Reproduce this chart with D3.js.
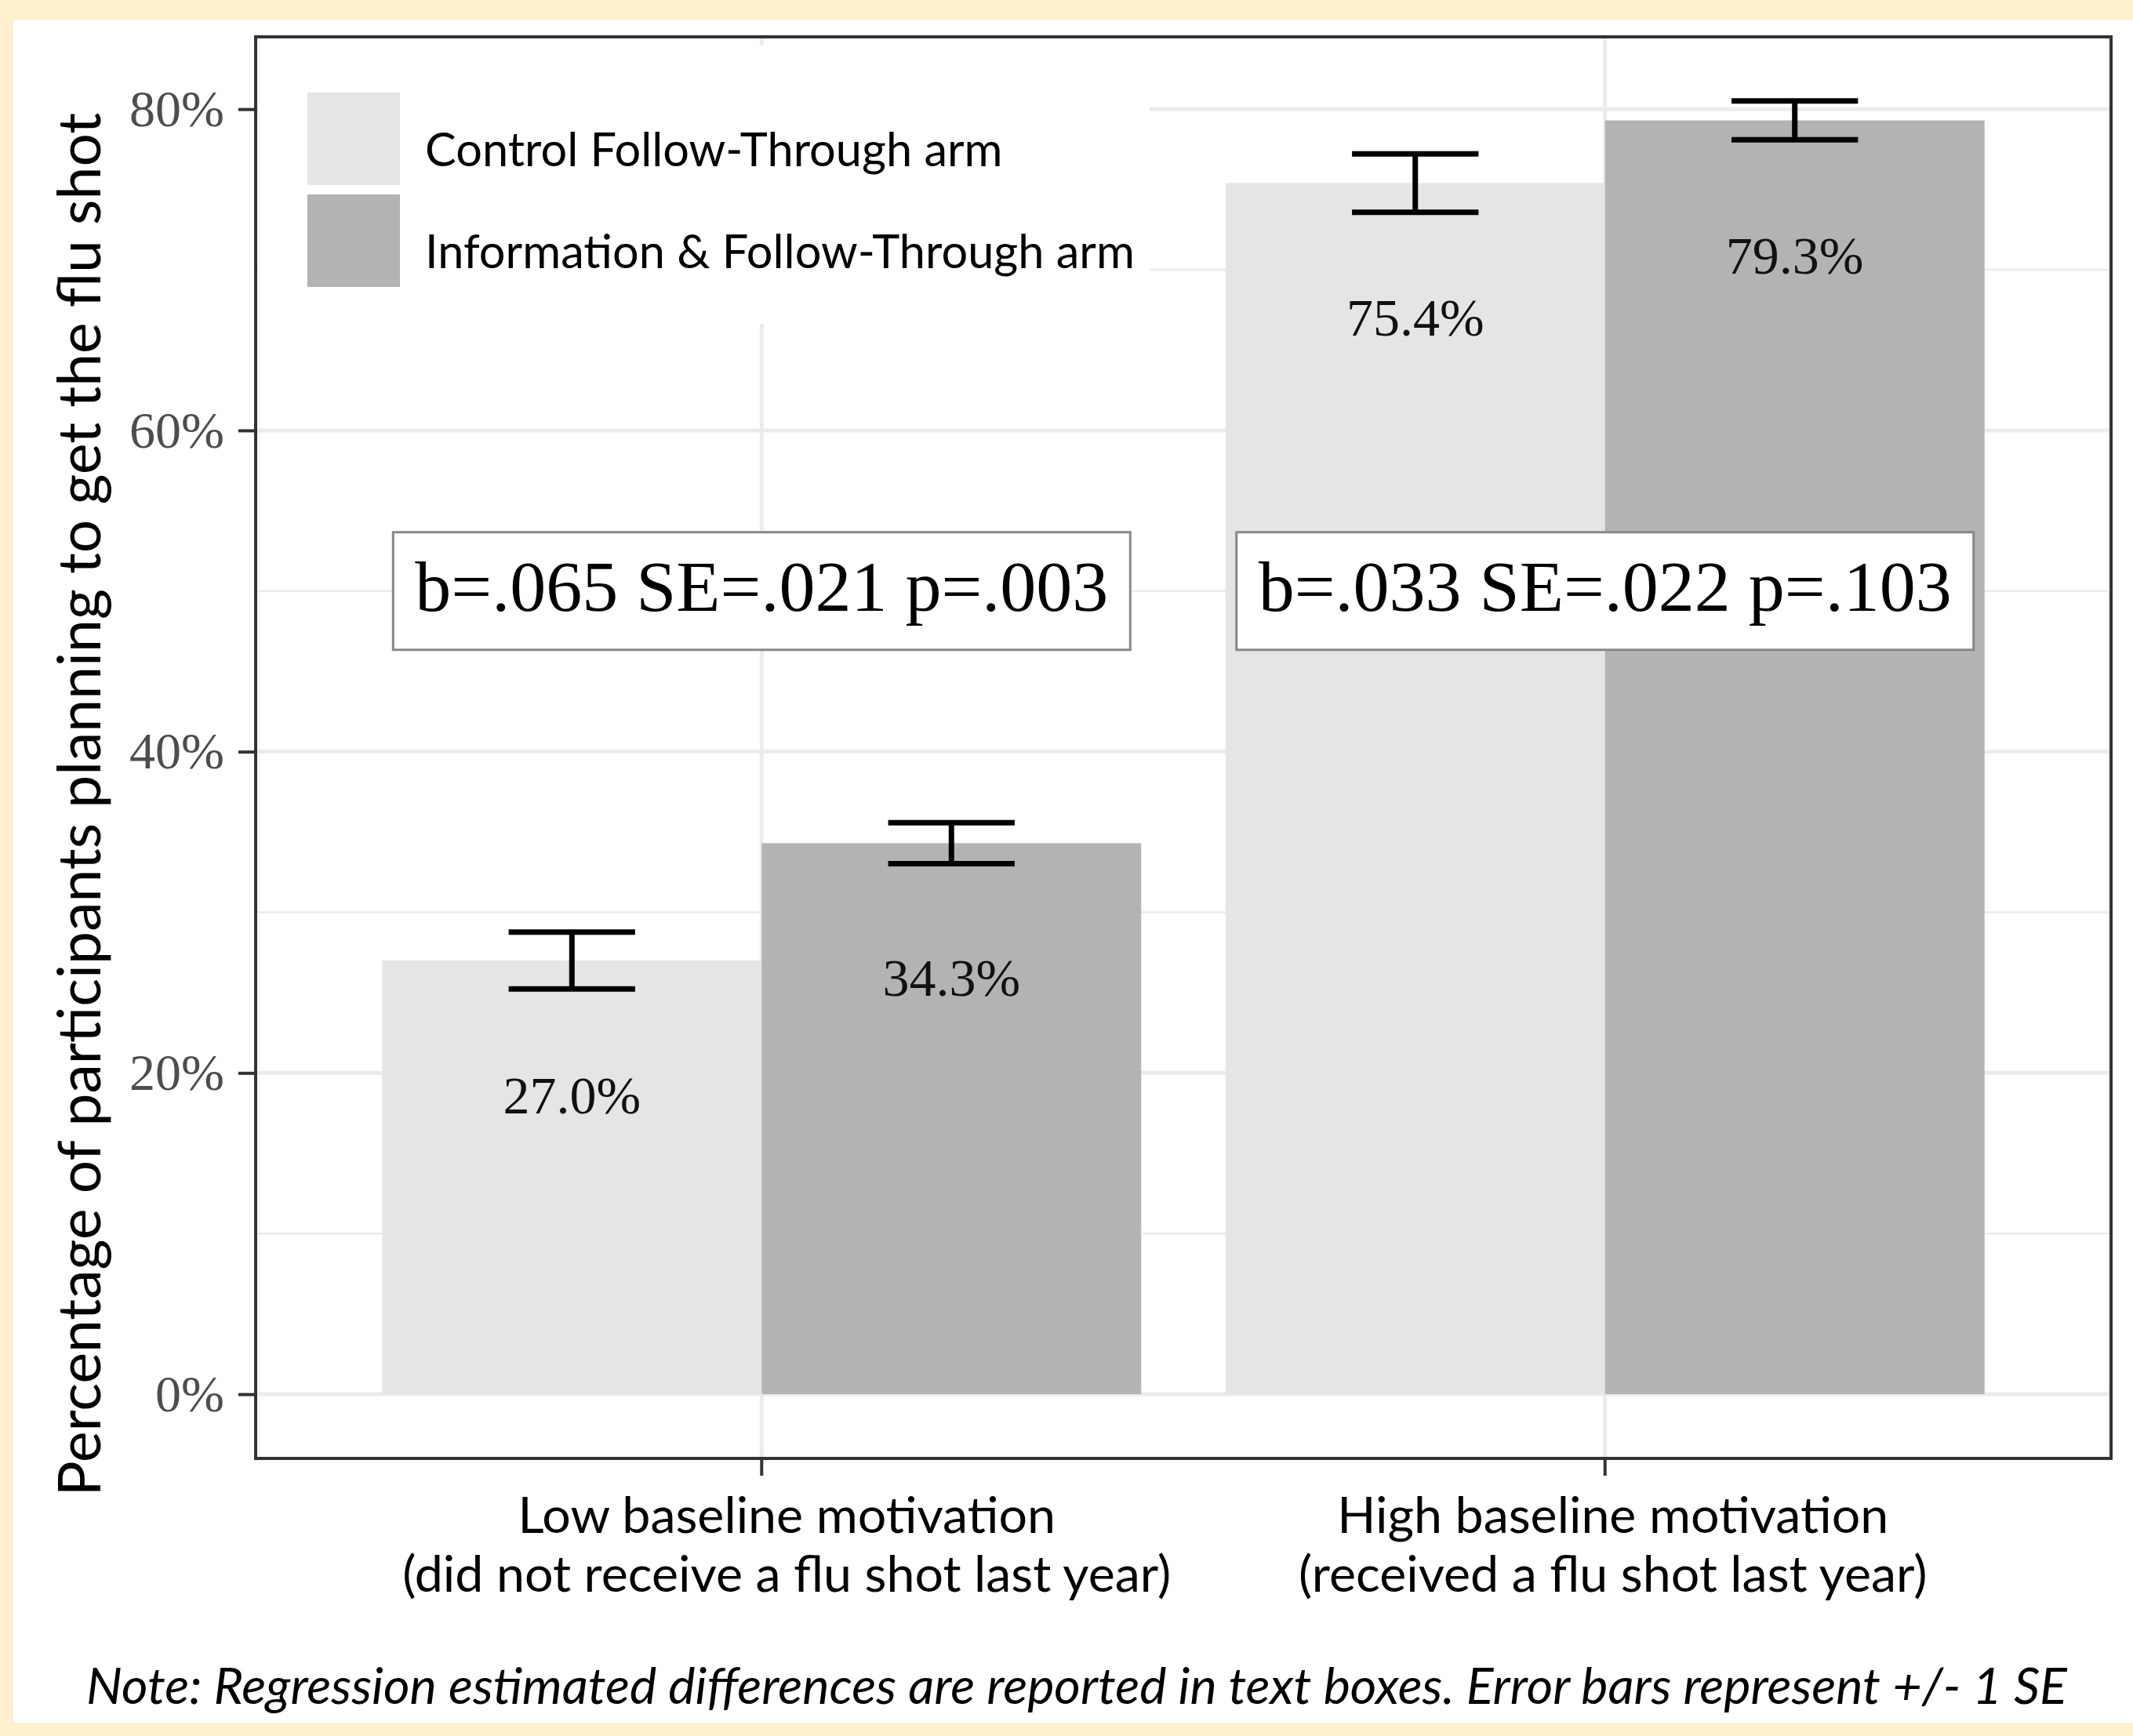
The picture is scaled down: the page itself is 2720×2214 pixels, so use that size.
<!DOCTYPE html>
<html>
<head>
<meta charset="utf-8">
<script src="https://cdn.jsdelivr.net/npm/d3@7"></script>
<style>
  body { margin: 0; background: #FFF1CE; }
  svg { display: block; }
  .sans { font-family: Lato, "Open Sans", sans-serif; }
  .serif { font-family: "Liberation Serif", "Times New Roman", serif; }
</style>
</head>
<body>
<svg width="2720" height="2214"></svg>
<script>
// data
const groups = ["Low", "High"];
const groupLine1 = ["Low baseline motivation", "High baseline motivation"];
const groupLine2 = ["(did not receive a flu shot last year)", "(received a flu shot last year)"];
const arms = ["Control Follow-Through arm", "Information & Follow-Through arm"];
const controlValues = [27.0, 75.4];
const infoValues = [34.3, 79.3];
const controlSE = [1.77, 1.82];
const infoSE = [1.27, 1.21];
const statLabels = ["b=.065 SE=.021 p=.003", "b=.033 SE=.022 p=.103"];
const yTicks = [0, 20, 40, 60, 80];
const yMinor = [10, 30, 50, 70];

const svg = d3.select("svg"),
      panel = {left: 326, right: 2692, top: 47, bottom: 1860};

// page background: cream frame + white card
svg.append("rect").attr("width", 2720).attr("height", 2214).attr("fill", "#FFF1CE");
svg.append("rect").attr("x", 17).attr("y", 25).attr("width", 2720 - 17).attr("height", 2197 - 25).attr("fill", "#fff");

const data = [];
groups.forEach((grp, i) => {
  data.push({group: grp, arm: arms[0], value: controlValues[i], se: controlSE[i]});
  data.push({group: grp, arm: arms[1], value: infoValues[i], se: infoSE[i]});
});

const x0 = d3.scaleBand()
  .domain(groups)
  .range([panel.left, panel.right])
  .paddingInner(0.1)
  .paddingOuter(0.15);

const x1 = d3.scaleBand()
  .domain(arms)
  .range([0, x0.bandwidth()])
  .padding(0);

const y = d3.scaleLinear()
  .domain([-4.0, 84.5])
  .range([panel.bottom, panel.top]);

const color = d3.scaleOrdinal()
  .domain(arms)
  .range(["#E5E5E5", "#B3B3B3"]);

const cx = grp => x0(grp) + x0.bandwidth() / 2;

// grid
const grid = svg.append("g");
grid.selectAll("line.minor")
  .data(yMinor)
  .join("line")
  .attr("x1", panel.left).attr("x2", panel.right)
  .attr("y1", d => y(d)).attr("y2", d => y(d))
  .attr("stroke", "#EBEBEB").attr("stroke-width", 2.5);
grid.selectAll("line.major")
  .data(yTicks)
  .join("line")
  .attr("x1", panel.left).attr("x2", panel.right)
  .attr("y1", d => y(d)).attr("y2", d => y(d))
  .attr("stroke", "#EBEBEB").attr("stroke-width", 5);
grid.selectAll("line.vert")
  .data(groups)
  .join("line")
  .attr("x1", d => cx(d)).attr("x2", d => cx(d))
  .attr("y1", panel.top).attr("y2", panel.bottom)
  .attr("stroke", "#EBEBEB").attr("stroke-width", 5);

// bars
const gg = svg.selectAll(".grp")
  .data(d3.groups(data, d => d.group))
  .join("g")
  .attr("transform", d => `translate(${x0(d[0])},0)`);

gg.selectAll("rect")
  .data(d => d[1])
  .join("rect")
  .attr("x", d => x1(d.arm))
  .attr("y", d => y(d.value))
  .attr("width", x1.bandwidth())
  .attr("height", d => y(0) - y(d.value))
  .attr("fill", d => color(d.arm));

// error bars (cap width = 1/3 of bar)
const capW = x1.bandwidth() / 3;
const eb = gg.selectAll("g.err")
  .data(d => d[1])
  .join("g")
  .attr("transform", d => `translate(${x1(d.arm) + x1.bandwidth() / 2},0)`)
  .attr("stroke", "#000")
  .attr("stroke-width", 7);
eb.append("line")
  .attr("y1", d => y(d.value + d.se)).attr("y2", d => y(d.value - d.se));
eb.append("line")
  .attr("x1", -capW / 2).attr("x2", capW / 2)
  .attr("y1", d => y(d.value + d.se)).attr("y2", d => y(d.value + d.se));
eb.append("line")
  .attr("x1", -capW / 2).attr("x2", capW / 2)
  .attr("y1", d => y(d.value - d.se)).attr("y2", d => y(d.value - d.se));

// value labels inside bars
gg.selectAll("text.val")
  .data(d => d[1])
  .join("text")
  .attr("class", "serif")
  .attr("x", d => x1(d.arm) + x1.bandwidth() / 2)
  .attr("y", d => y(d.value) + 195)
  .attr("text-anchor", "middle")
  .attr("fill", "#111")
  .style("font-size", "68px")
  .text(d => d3.format(".1f")(d.value) + "%");

// regression boxes
const boxes = svg.selectAll("g.box")
  .data(groups)
  .join("g")
  .attr("transform", d => `translate(${cx(d)},${y(50)})`);
boxes.append("rect")
  .attr("x", -470).attr("y", -75)
  .attr("width", 940).attr("height", 150)
  .attr("fill", "#fff")
  .attr("stroke", "#888")
  .attr("stroke-width", 3);
boxes.append("text")
  .attr("class", "serif")
  .attr("y", 25)
  .attr("text-anchor", "middle")
  .attr("fill", "#000")
  .style("font-size", "92px")
  .text((d, i) => statLabels[i]);

// legend (inside panel, white background)
const legend = svg.append("g");
legend.append("rect")
  .attr("x", 330).attr("y", 57)
  .attr("width", 1136).attr("height", 356)
  .attr("fill", "#fff");
arms.forEach((key, i) => {
  const row = legend.append("g")
    .attr("transform", `translate(392, ${118 + i * 130})`);
  row.append("rect")
    .attr("width", 118)
    .attr("height", 118)
    .attr("fill", color(key));
  row.append("text")
    .attr("class", "sans")
    .attr("x", 150)
    .attr("y", 94)
    .style("font-size", "59.5px")
    .text(key);
});

// panel border
svg.append("rect")
  .attr("x", panel.left).attr("y", panel.top)
  .attr("width", panel.right - panel.left)
  .attr("height", panel.bottom - panel.top)
  .attr("fill", "none")
  .attr("stroke", "#333")
  .attr("stroke-width", 4);

// y axis
const yAxis = svg.append("g")
  .attr("transform", `translate(${panel.left},0)`)
  .call(d3.axisLeft(y).tickValues(yTicks).tickSize(22).tickPadding(18).tickFormat(d => d + "%"));
yAxis.select(".domain").remove();
yAxis.selectAll(".tick line").attr("stroke", "#333").attr("stroke-width", 4);
yAxis.selectAll("text")
  .attr("class", "serif")
  .attr("fill", "#4D4D4D")
  .style("font-size", "66px");

// x axis ticks
const xAxis = svg.append("g")
  .attr("transform", `translate(0,${panel.bottom})`)
  .call(d3.axisBottom(x0).tickSize(22).tickFormat(""));
xAxis.select(".domain").remove();
xAxis.selectAll(".tick line").attr("stroke", "#333").attr("stroke-width", 4);

// x labels (two lines)
const xShift = [32, 10];
const xl = svg.selectAll("text.xl")
  .data(groups)
  .join("text")
  .attr("class", "sans")
  .attr("text-anchor", "middle")
  .style("font-size", "64.5px")
  .attr("fill", "#000");
xl.append("tspan")
  .attr("x", (d, i) => cx(d) + xShift[i])
  .attr("y", 1955)
  .text((d, i) => groupLine1[i]);
xl.append("tspan")
  .attr("x", (d, i) => cx(d) + xShift[i])
  .attr("y", 2030)
  .text((d, i) => groupLine2[i]);

// y title
svg.append("text")
  .attr("class", "sans")
  .attr("transform", "rotate(-90)")
  .attr("x", -1026)
  .attr("y", 128)
  .attr("text-anchor", "middle")
  .style("font-size", "75px")
  .text("Percentage of participants planning to get the flu shot");

// note
svg.append("text")
  .attr("class", "sans")
  .attr("x", 1373)
  .attr("y", 2173)
  .attr("text-anchor", "middle")
  .style("font-size", "64.7px")
  .style("font-style", "italic")
  .text("Note: Regression estimated differences are reported in text boxes. Error bars represent +/- 1 SE");
</script>
</body>
</html>
